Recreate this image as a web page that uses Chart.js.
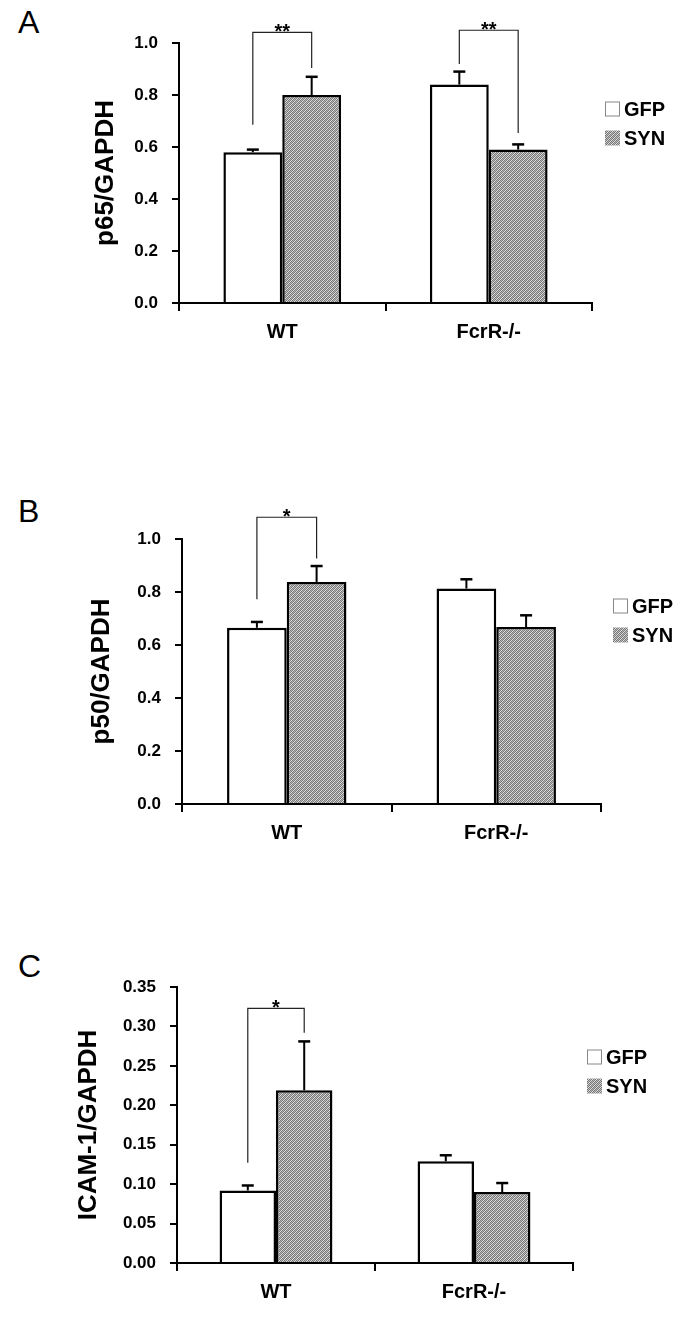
<!DOCTYPE html>
<html>
<head>
<meta charset="utf-8">
<script src="https://cdn.jsdelivr.net/npm/chart.js@4"></script>
<style>
  body { margin: 0; background: #fff; width: 685px; height: 1328px; position: relative; overflow: hidden; }
  canvas { position: absolute; left: 0; }
  .tag { position: absolute; left: 18px; font: 32px 'Liberation Sans', Arial, sans-serif; color: #000; line-height: 1; }
</style>
</head>
<body>
<div class="tag" style="top:6px">A</div>
<div class="tag" style="top:495px">B</div>
<div class="tag" style="top:950px">C</div>
<canvas id="chartA" width="685" height="345" style="top:0px"></canvas>
<canvas id="chartB" width="685" height="400" style="top:460px"></canvas>
<canvas id="chartC" width="685" height="428" style="top:900px"></canvas>
<script>
const categories = ['WT', 'FcrR-/-'];
const seriesNames = ['GFP', 'SYN'];

// A: p65
const p65Gfp = [0.58, 0.84];
const p65Syn = [0.80, 0.59];
const p65GfpErr = [0.01, 0.05];
const p65SynErr = [0.07, 0.02];
const p65Ticks = [0, 0.2, 0.4, 0.6, 0.8, 1.0];
// [category, GFP leg bottom, SYN leg bottom, bracket top, mark]
const p65Sig = [[0, 0.686, 0.904, 1.041, '**'], [1, 0.919, 0.654, 1.049, '**']];

// B: p50
const p50Gfp = [0.665, 0.813];
const p50Syn = [0.838, 0.668];
const p50GfpErr = [0.022, 0.035];
const p50SynErr = [0.06, 0.044];
const p50Ticks = [0, 0.2, 0.4, 0.6, 0.8, 1.0];
const p50Sig = [[0, 0.773, 0.926, 1.082, '*']];

// C: ICAM-1
const icamGfp = [0.092, 0.129];
const icamSyn = [0.219, 0.090];
const icamGfpErr = [0.0063, 0.0076];
const icamSynErr = [0.062, 0.0114];
const icamTicks = [0, 0.05, 0.10, 0.15, 0.20, 0.25, 0.30, 0.35];
const icamSig = [[0, 0.127, 0.292, 0.323, '*']];

const FONT = "'Liberation Sans', Arial, sans-serif";

// fine grey dither like the original fill
function hatch() {
  const c = document.createElement('canvas');
  c.width = 4; c.height = 4;
  const g = c.getContext('2d');
  const img = g.createImageData(4, 4);
  for (let y = 0; y < 4; y++) {
    for (let x = 0; x < 4; x++) {
      let v = 225;
      if ((x + y) % 2 === 0) v = 120;
      else if ((x + y) % 4 === 1) v = 185;
      const k = (y * 4 + x) * 4;
      img.data[k] = v; img.data[k + 1] = v; img.data[k + 2] = v; img.data[k + 3] = 255;
    }
  }
  g.putImageData(img, 0, 0);
  return g.createPattern(c, 'repeat');
}
const synFill = hatch();

const extras = {
  id: 'extras',
  afterDatasetsDraw(chart, args, opts) {
    const ctx = chart.ctx;
    const y = chart.scales.y;
    ctx.save();
    ctx.strokeStyle = '#000';
    chart.data.datasets.forEach((ds, i) => {
      chart.getDatasetMeta(i).data.forEach((bar, j) => {
        const top = y.getPixelForValue(ds.data[j] + ds.errors[j]);
        ctx.lineWidth = 2;
        ctx.beginPath();
        ctx.moveTo(bar.x, bar.y);
        ctx.lineTo(bar.x, top);
        ctx.stroke();
        ctx.lineWidth = 2.5;
        ctx.beginPath();
        ctx.moveTo(bar.x - 6, top);
        ctx.lineTo(bar.x + 6, top);
        ctx.stroke();
      });
    });
    ctx.restore();
  },
  afterDraw(chart, args, opts) {
    const ctx = chart.ctx;
    const y = chart.scales.y;
    const m0 = chart.getDatasetMeta(0), m1 = chart.getDatasetMeta(1);
    ctx.save();
    // significance brackets
    opts.sig.forEach(([cat, a, b, t, mark]) => {
      const x0 = m0.data[cat].x, x1 = m1.data[cat].x;
      const yt = y.getPixelForValue(t);
      ctx.strokeStyle = '#222';
      ctx.lineWidth = 1.2;
      ctx.beginPath();
      ctx.moveTo(x0, y.getPixelForValue(a));
      ctx.lineTo(x0, yt);
      ctx.lineTo(x1, yt);
      ctx.lineTo(x1, y.getPixelForValue(b));
      ctx.stroke();
      ctx.fillStyle = '#000';
      ctx.font = 'bold 20px ' + FONT;
      ctx.textAlign = 'center';
      ctx.textBaseline = 'alphabetic';
      ctx.fillText(mark, (x0 + x1) / 2, yt + 6);
    });
    // legend
    const lg = opts.legend;
    chart.data.datasets.forEach((ds, i) => {
      const cy = lg.y + i * 29;
      ctx.fillStyle = ds.backgroundColor;
      ctx.fillRect(lg.x, cy - 7.5, 15, 15);
      if (i === 0) {
        ctx.strokeStyle = '#888';
        ctx.lineWidth = 1;
        ctx.strokeRect(lg.x + 0.5, cy - 7, 14, 14);
      }
      ctx.fillStyle = '#000';
      ctx.font = 'bold 20px ' + FONT;
      ctx.textAlign = 'left';
      ctx.textBaseline = 'middle';
      ctx.fillText(ds.label, lg.x + 19, cy + 1);
    });
    ctx.restore();
  }
};

function makePanel(id, box, title, gfp, syn, gfpErr, synErr, ticks, digits, sig) {
  return new Chart(document.getElementById(id), {
    type: 'bar',
    data: {
      labels: categories,
      datasets: [
        { label: seriesNames[0], data: gfp, errors: gfpErr, backgroundColor: '#ffffff', borderColor: '#000', borderWidth: 2.5 },
        { label: seriesNames[1], data: syn, errors: synErr, backgroundColor: synFill, borderColor: '#000', borderWidth: 2.5 }
      ]
    },
    options: {
      responsive: false,
      animation: false,
      devicePixelRatio: 1,
      categoryPercentage: 0.57,
      barPercentage: 1.0,
      layout: {
        padding: {
          left: 60,
          right: 685 - box.right,
          top: box.areaTop - box.top,
          bottom: box.height - (box.areaBottom - box.top) - 40
        }
      },
      plugins: {
        legend: { display: false },
        tooltip: { enabled: false },
        extras: { sig: sig, legend: box.legend }
      },
      scales: {
        x: {
          afterFit: s => { s.height = 40; },
          grid: { display: true, drawOnChartArea: false, offset: true, color: '#000', lineWidth: 2, tickLength: 8 },
          border: { color: '#000', width: 2 },
          ticks: { color: '#000', padding: 9, font: { family: FONT, size: 20, weight: 'bold' } }
        },
        y: {
          min: ticks[0],
          max: ticks[ticks.length - 1],
          afterFit: s => { s.width = box.left - 60; },
          afterBuildTicks: s => { s.ticks = ticks.map(v => ({ value: v })); },
          grid: { display: true, drawOnChartArea: false, color: '#000', lineWidth: 2, tickLength: 7 },
          border: { color: '#000', width: 2 },
          ticks: {
            color: '#000', padding: 14,
            font: { family: FONT, size: 17, weight: 'bold' },
            callback: v => Number(v).toFixed(digits)
          },
          title: {
            display: true, text: title, color: '#000',
            padding: { top: box.titleX - 75.6, bottom: 0 },
            font: { family: FONT, size: 26, weight: 'bold' }
          }
        }
      }
    },
    plugins: [extras]
  });
}

makePanel('chartA',
  { top: 0, height: 345, left: 179, right: 592, areaTop: 43, areaBottom: 303, titleX: 106, legend: { x: 605, y: 109 } },
  'p65/GAPDH', p65Gfp, p65Syn, p65GfpErr, p65SynErr, p65Ticks, 1, p65Sig);

makePanel('chartB',
  { top: 460, height: 400, left: 182, right: 601, areaTop: 539, areaBottom: 804, titleX: 101.5, legend: { x: 613, y: 146 } },
  'p50/GAPDH', p50Gfp, p50Syn, p50GfpErr, p50SynErr, p50Ticks, 1, p50Sig);

makePanel('chartC',
  { top: 900, height: 428, left: 177, right: 573, areaTop: 987, areaBottom: 1263, titleX: 88.5, legend: { x: 587, y: 157 } },
  'ICAM-1/GAPDH', icamGfp, icamSyn, icamGfpErr, icamSynErr, icamTicks, 2, icamSig);
</script>
</body>
</html>
